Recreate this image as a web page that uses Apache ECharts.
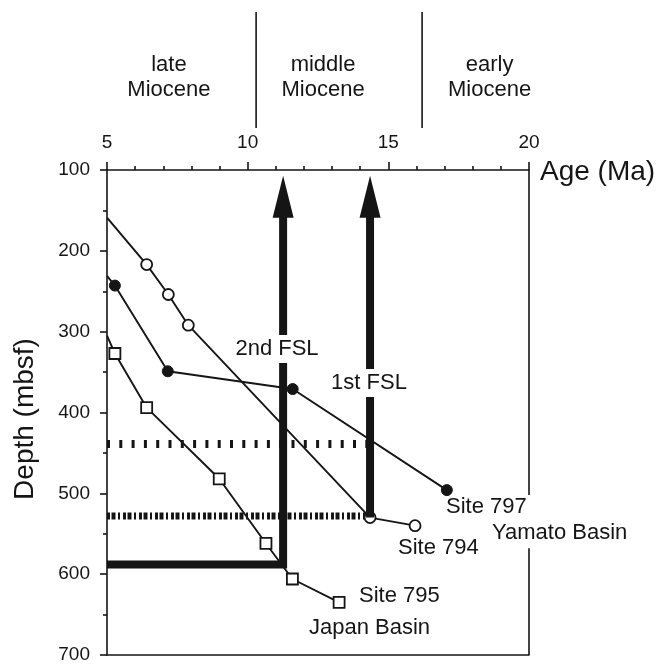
<!DOCTYPE html>
<html><head><meta charset="utf-8">
<script src="https://cdn.jsdelivr.net/npm/echarts/dist/echarts.min.js"></script>
<style>html,body{margin:0;padding:0;background:#fff}#c{width:661px;height:668px}</style>
</head><body><div id="c"></div>
<script>
// ---- data ----
const ageTicks = [5, 10, 15, 20];
const depthTicks = [100, 200, 300, 400, 500, 600, 700];
const site794Age = [5, 6.41, 7.18, 7.89, 14.35, 15.95];
const site794Depth = [159, 217, 254, 292, 530, 540];
const site797Age = [5, 5.28, 7.16, 11.6, 17.08];
const site797Depth = [231, 243, 349, 371, 496];
const site795Age = [5, 5.28, 6.41, 8.99, 10.65, 11.59, 13.25];
const site795Depth = [305, 327, 394, 482, 562, 606, 635];
const fsl2Age = 11.26, fsl2BaseDepth = 588;
const fsl1Age = 14.35, fsl1BaseDepth = 530;
const arrowTopDepth = 150, arrowHeadDepth = 133;
const dotUpperDepth = 439, dotLowerDepth = 528;
const periodBounds = [10.3, 16.2];
const periodNames = ['late\nMiocene', 'middle\nMiocene', 'early\nMiocene'];
const periodCenters = [7.2, 12.68, 18.6];

const FONT = '"Liberation Sans", Arial, Helvetica, sans-serif';
const INK = '#151515';

function pairs(xs, ys) { return xs.map((x, i) => [x, ys[i]]); }
function firstNone(arr) { return arr.map((p, i) => i === 0 ? { value: p, symbol: 'none' } : p); }

const chart = echarts.init(document.getElementById('c'), null, { renderer: 'canvas' });

const option = {
  animation: false,
  backgroundColor: '#fff',
  grid: { left: 107, top: 170, width: 422, height: 485 },
  xAxis: [{
    type: 'value', position: 'top', min: 5, max: 20, interval: 5,
    axisLine: { show: true, lineStyle: { color: INK, width: 1.6 } },
    axisTick: { show: true, length: 8, lineStyle: { color: INK, width: 1.6 } },
    minorTick: { show: true, splitNumber: 5, length: 4, lineStyle: { color: INK, width: 1.6 } },
    axisLabel: { color: INK, fontSize: 19, fontFamily: FONT, margin: 18 },
    splitLine: { show: false }, minorSplitLine: { show: false }
  }, {
    type: 'value', position: 'bottom', min: 5, max: 20,
    axisLine: { show: true, onZero: false, lineStyle: { color: INK, width: 1.6 } },
    axisTick: { show: false }, axisLabel: { show: false }, splitLine: { show: false }
  }],
  yAxis: {
    type: 'value', inverse: true, min: 100, max: 700, interval: 100,
    axisLine: { show: true, lineStyle: { color: INK, width: 1.6 } },
    axisTick: { show: true, length: 7, lineStyle: { color: INK, width: 1.6 } },
    minorTick: { show: true, splitNumber: 2, length: 4, lineStyle: { color: INK, width: 1.6 } },
    axisLabel: { color: INK, fontSize: 19, fontFamily: FONT, margin: 17 },
    splitLine: { show: false }
  },
  series: [
    { name: 'right frame', type: 'line', symbol: 'none', connectNulls: false,
      data: [[20, 100], [20, 502], [20, '-'], [20, 568], [20, 700]],
      lineStyle: { color: INK, width: 1.6 }, z: 1 },
    { name: 'dot upper', type: 'line', symbol: 'none',
      data: [[5, dotUpperDepth], [fsl1Age, dotUpperDepth]],
      lineStyle: { color: INK, width: 8, type: [3, 9.3], cap: 'butt' }, z: 2 },
    { name: 'dot lower', type: 'line', symbol: 'none',
      data: [[5, dotLowerDepth], [fsl1Age, dotLowerDepth]],
      lineStyle: { color: INK, width: 7, type: [3, 1.5, 4, 2.5, 2, 3], cap: 'butt' }, z: 2 },
    { name: 'Site 794', type: 'line', data: firstNone(pairs(site794Age, site794Depth)),
      symbol: 'circle', symbolSize: 11,
      lineStyle: { color: INK, width: 1.9 },
      itemStyle: { color: '#fff', borderColor: INK, borderWidth: 1.8 }, z: 3 },
    { name: 'Site 797', type: 'line', data: firstNone(pairs(site797Age, site797Depth)),
      symbol: 'circle', symbolSize: 11,
      lineStyle: { color: INK, width: 1.9 },
      itemStyle: { color: INK, borderColor: INK, borderWidth: 1 }, z: 3 },
    { name: 'Site 795', type: 'line', data: firstNone(pairs(site795Age, site795Depth)),
      symbol: 'rect', symbolSize: 11,
      lineStyle: { color: INK, width: 1.9 },
      itemStyle: { color: '#fff', borderColor: INK, borderWidth: 1.8 }, z: 3 },
    { name: '2nd FSL', type: 'line', symbol: 'none',
      data: [[5, fsl2BaseDepth], [fsl2Age, fsl2BaseDepth], [fsl2Age, arrowTopDepth]],
      lineStyle: { color: INK, width: 8, join: 'miter', cap: 'butt' }, z: 4 },
    { name: '1st FSL', type: 'line', symbol: 'none',
      data: [[fsl1Age, fsl1BaseDepth], [fsl1Age, arrowTopDepth]],
      lineStyle: { color: INK, width: 8, cap: 'butt' }, z: 4 },
    { name: 'heads', type: 'scatter', symbol: 'triangle', symbolSize: [21, 42],
      data: [[fsl2Age, arrowHeadDepth], [fsl1Age, arrowHeadDepth]],
      itemStyle: { color: INK, opacity: 1 }, z: 4 }
  ]
};
chart.setOption(option);

const px = v => chart.convertToPixel({ xAxisIndex: 0 }, v);
const g = [];
periodBounds.forEach(a => {
  const x = px(a);
  g.push({ type: 'line', shape: { x1: x, y1: 12, x2: x, y2: 128 }, style: { stroke: INK, lineWidth: 1.6 } });
});
periodNames.forEach((t, i) => {
  g.push({ type: 'text', x: px(periodCenters[i]), y: 77, z: 100,
    style: { text: t, font: '22px ' + FONT, fill: INK, align: 'center', verticalAlign: 'middle', lineHeight: 25 } });
});
const txt = (t, x, y, opts) => g.push(Object.assign({ type: 'text', x, y, z: 100,
  style: Object.assign({ text: t, font: '22px ' + FONT, fill: INK, align: 'left', verticalAlign: 'middle' }, opts || {}) }));
txt('Age (Ma)', 540, 172, { font: '28px ' + FONT });
g.push({ type: 'text', x: 25, y: 419, rotation: Math.PI / 2, z: 100,
  style: { text: 'Depth (mbsf)', font: '28px ' + FONT, fill: INK, align: 'center', verticalAlign: 'middle' } });
txt('2nd FSL', 277, 349, { align: 'center', backgroundColor: '#fff', padding: [3, 2, 3, 2] });
txt('1st FSL', 369, 383, { align: 'center', backgroundColor: '#fff', padding: [3, 2, 3, 2] });
txt('Site 797', 446, 507);
txt('Yamato Basin', 492, 533);
txt('Site 794', 398, 548);
txt('Site 795', 359, 596);
txt('Japan Basin', 309, 628);
chart.setOption({ graphic: g });
</script></body></html>
